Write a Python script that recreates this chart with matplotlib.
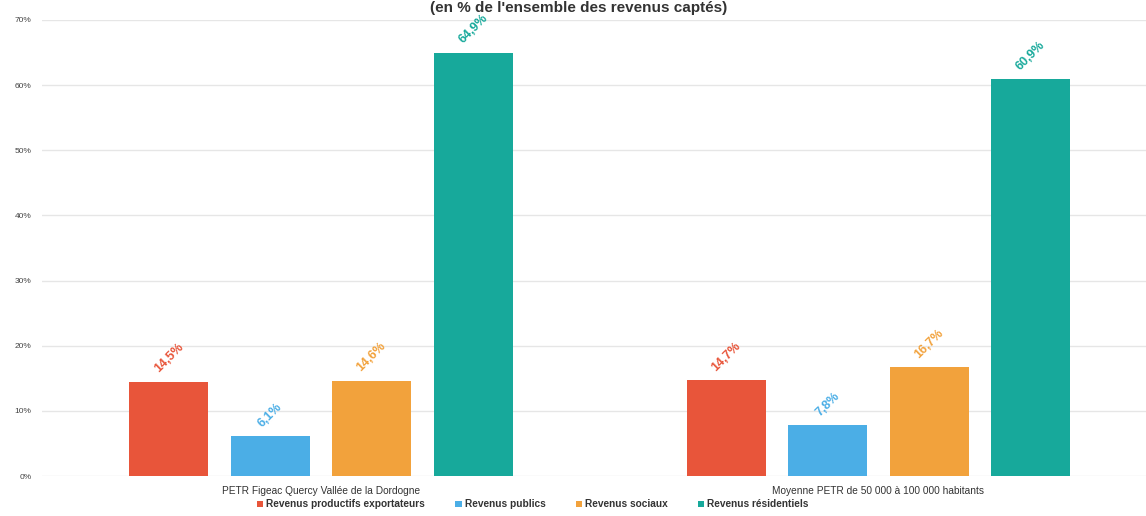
import matplotlib
matplotlib.use("Agg")
import matplotlib.pyplot as plt
import numpy as np

categories = ["PETR Figeac Quercy Vallée de la Dordogne",
              "Moyenne PETR de 50 000 à 100 000 habitants"]
series = ["Revenus productifs exportateurs", "Revenus publics",
          "Revenus sociaux", "Revenus résidentiels"]
values = {
    "Revenus productifs exportateurs": [14.5, 14.7],
    "Revenus publics": [6.1, 7.8],
    "Revenus sociaux": [14.6, 16.7],
    "Revenus résidentiels": [64.9, 60.9],
}
colors = ["#E8553A", "#4BAEE6", "#F2A23C", "#17A99B"]
yticks = [0, 10, 20, 30, 40, 50, 60, 70]
title = "(en % de l'ensemble des revenus captés)"

plt.rcParams['font.family'] = ['Liberation Sans', 'DejaVu Sans']

fig = plt.figure(figsize=(11.46, 5.16), dpi=100)
ax = fig.add_axes([0.037, 0.0775, 0.963, 0.884])

x = np.arange(len(categories))
w = 0.142
step = 0.182
for i, s in enumerate(series):
    xs = x + (i - 1.5) * step
    ax.bar(xs, values[s], width=w, color=colors[i], label=s, zorder=3)
    for xi, v in zip(xs, values[s]):
        lab = f"{v:.1f}%".replace(".", ",")
        ax.annotate(lab, (xi, v), xytext=(0, 5), textcoords="offset points",
                    rotation=45, ha="center", va="bottom", color=colors[i],
                    fontsize=9, fontweight="bold")

ax.set_xlim(-0.5, 1.48)
ax.set_ylim(0, 70)
ax.set_yticks(yticks)
ax.set_yticklabels([f"{t}%" for t in yticks], fontsize=6, color="#444444")
ax.set_xticks(x)
ax.set_xticklabels(categories, fontsize=7.3, color="#333333")
ax.tick_params(axis="x", length=0, pad=7)
ax.tick_params(axis="y", length=0, pad=8)
ax.grid(axis="y", color="#e6e6e6", linewidth=1, zorder=0)
for sp in ax.spines.values():
    sp.set_visible(False)

leg = fig.legend(loc="lower center", bbox_to_anchor=(0.465, -0.005), ncol=4,
                 frameon=False, fontsize=7.3, handlelength=0.6, handleheight=0.6,
                 columnspacing=3.0, handletextpad=0.3)
for t in leg.get_texts():
    t.set_fontweight("bold")
    t.set_color("#333333")

fig.text(0.505, 0.985, title, ha="center", va="center", fontsize=11,
         fontweight="bold", color="#333333")

fig.savefig("out.png", dpi=100)
